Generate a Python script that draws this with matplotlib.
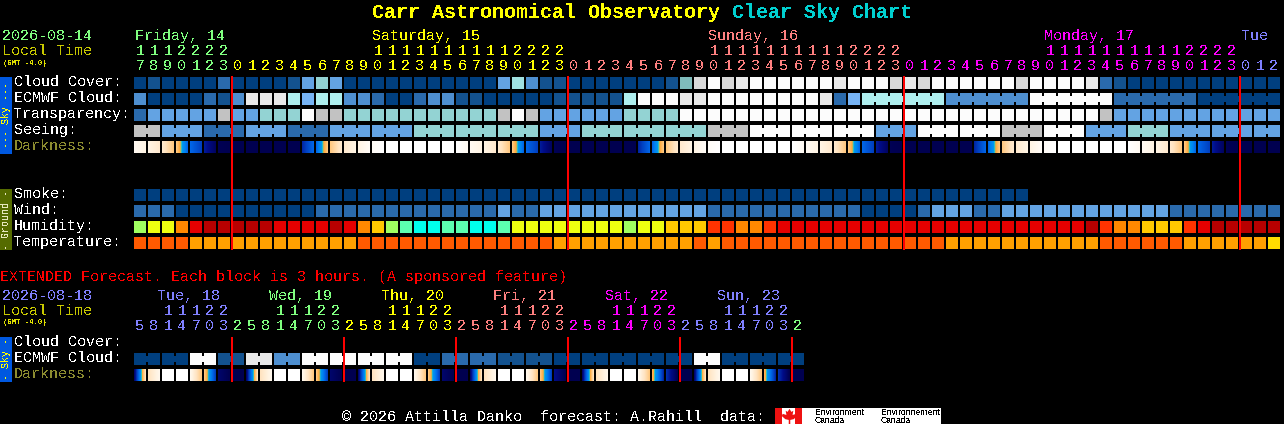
import numpy as np
import matplotlib
matplotlib.use("Agg")
import matplotlib.pyplot as plt
from matplotlib.colors import LinearSegmentedColormap
from matplotlib.patches import Rectangle

plt.rcParams['text.antialiased'] = False
MONO = 'Liberation Mono'

# ---------- data ----------
HOURS = [17,18,19,20,21,22,23,0,1,2,3,4,5,6,7,8,9,10,11,12,13,14,15,16,17,18,19,20,21,22,23,
         0,1,2,3,4,5,6,7,8,9,10,11,12,13,14,15,16,17,18,19,20,21,22,23,
         0,1,2,3,4,5,6,7,8,9,10,11,12,13,14,15,16,17,18,19,20,21,22,23,0,1,2]
HOUR_DAY = [0]*7 + [1]*24 + [2]*24 + [3]*24 + [4]*3
DAY_COLORS = ['#80ff80', '#ffff00', '#ff8080', '#ff00ff', '#8080ff']
DAY_LABELS = ['Friday, 14', 'Saturday, 15', 'Sunday, 16', 'Monday, 17', 'Tue']
DAY_LABEL_X = [135, 372, 708, 1044, 1241]

CLOUD_COLORS = ['#003f7f', '#13528f', '#2a6aac', '#4e8fd0', '#63a3e3', '#77b4f5', '#aeeeee',
                '#93d3d3', '#c2c2c2', '#e9e9e9', '#fcfcfc', '#d8d8d8', '#7fbcbc', '#a0e0e0']

cloud_cover = [0,1,0,0,0,0,2,0,0,0,0,1,4,7,4,0,0,0,0,0,0,
               0,0,0,0,0,4,13,3,1,1,0,0,0,0,0,0,0,1,12,11,10,11,9,10,10,10,10,10,10,9,10,
               10,10,11,9,11,10,10,10,10,10,10,11,10,10,10,10,9,2,1,0,0,0,0,0,0,0,0,0,0,0]
ecmwf = [3,0,0,0,0,2,1,3,9,9,9,6,5,6,6,3,3,2,0,0,2,
         3,3,1,1,0,0,0,0,0,1,1,1,1,1,6,10,10,10,9,9,10,10,10,10,10,10,10,10,9,2,5,
         6,6,6,6,6,6,3,3,3,3,3,3,10,10,10,10,10,10,2,2,2,2,2,2,0,0,0,0,0,0]
transparency = [2,4,4,4,4,4,8,4,4,7,7,7,10,8,8,7,7,7,7,7,7,
                7,7,7,7,7,8,10,8,4,4,4,4,4,4,7,7,7,7,10,10,10,10,10,10,10,10,10,10,10,10,10,
                10,10,10,10,10,10,10,10,10,10,10,10,10,10,10,10,10,8,4,4,4,4,4,4,4,4,4,4,4,4]
seeing = [8,8, 4,4,4, 2,2,2, 4,4,4, 2,2,2, 4,4,4, 4,4,4, 7,7,7, 7,7,7, 7,7,7, 4,4,4, 7,7,7,
          7,7,7, 7,7,7, 8,8,8, 10,10,10, 10,10,10, 10,10,10, 4,4,4, 10,10,10, 10,10,10,
          8,8,8, 10,10,10, 4,4,4, 7,7,7, 4,4,4, 4,4,4, 4,4]
dark_left = [0.5,1.0,1.6,3.0,6.0,7.7,8.9,9,9,9,9,9,7.5,6.0,3.0,1.6,1.0,0.3,0,0,0,0,0,0,
             0.5,1.0,1.6,3.0,6.0,7.7,8.9,9,9,9,9,9,7.5,6.0,3.0,1.6,1.0,0.3,0,0,0,0,0,0,
             0.5,1.0,1.6,3.0,6.0,7.7,8.9,9,9,9,9,9,7.5,6.0,3.0,1.6,1.0,0.3,0,0,0,0,0,0,
             0.5,1.0,1.6,3.0,6.0,7.7,8.9,9,9,9]
dark_right = [1.0,1.6,3.0,6.0,7.0,8.7,9,9,9,9,9,9,6.0,3.0,1.6,1.0,0.3,0,0,0,0,0,0,0.5,
              1.0,1.6,3.0,6.0,7.0,8.7,9,9,9,9,9,9,6.0,3.0,1.6,1.0,0.3,0,0,0,0,0,0,0.5,
              1.0,1.6,3.0,6.0,7.0,8.7,9,9,9,9,9,9,6.0,3.0,1.6,1.0,0.3,0,0,0,0,0,0,0.5,
              1.0,1.6,3.0,6.0,7.0,8.7,9,9,9,9]
smoke = [0]*64
wind = [2,2,2,0,0,0,0,0,0,0,0,0,0,2,2,2,2,2,2,2,2,
        2,2,2,2,2,4,2,2,4,4,4,4,4,4,4,4,4,4,4,4,2,2,2,2,2,2,2,2,2,2,2,
        0,0,0,0,2,4,4,4,2,2,4,4,4,4,4,4,4,4,4,4,4,4,2,2,2,2,2,2,2,2]
HUM_COLORS = {'L':'#a0ff60','Y':'#eeff10','O':'#ff8800','R':'#e60000','D':'#b80000',
              'T':'#ff3300','G':'#ffc800','M':'#5cffb0','C':'#00ffec'}
humidity = list("LYYORDDDDDRRRRDRO" "GLMC"
                "CMMCCMYYYYYYYYLYYGGG" "TTOOTRRRRRR"
                "RRRRRRRRRRRRRRRRDTOOGGGTRDDDDD")
TEMP_COLORS = {'a':'#ff5a00','b':'#ffa000','c':'#ffdd00'}
temperature = list("aaaabbbbbbbbbbbbaaaaa"
                   "aaaaaaaaabbbbbbbbbbabaaaaaaaaaa"
                   "aaaaaabbbbbbbbbbbaaaaaabbbbbbc")

EXT_HOURS = [5,8,11,14,17,20,23]+[2,5,8,11,14,17,20,23]*5+[2]
EXT_DAY = [0]*7+[1]*8+[2]*8+[3]*8+[4]*8+[0]*8+[1]
EXT_COLORS = ['#8080ff', '#80ff80', '#ffff00', '#ff8080', '#ff00ff']
EXT_DAY_LABELS = ['Tue, 18','Wed, 19','Thu, 20','Fri, 21','Sat, 22','Sun, 23']
EXT_DAY_LABEL_X = [157,269,381,493,605,717]
EXT_DAY_LABEL_C = ['#8080ff','#80ff80','#ffff00','#ff8080','#ff00ff','#8080ff']
ext_ecmwf = [0,0,10,1,9,3,10,10,10,10,0,2,2,1,1,0,0,0,0,0,10,0,0,0]
ext_dark_left = [8.5,2.0,0,0,0.7,3.0,8.5,9, 8.5,2.0,0,0,0.7,3.0,8.5,9, 8.5,2.0,0,0,0.7,3.0,8.5,9,
                 8.5,2.0,0,0,0.7,3.0,8.0,9, 8.5,2.0,0,0,0.7,3.6,7.3,9, 8.5,2.0,0,0,0.7,3.6,7.3,9]
ext_dark_right = [2.0,0.7,0,0,3.0,7.0,9,9, 2.0,0.7,0,0,3.0,7.0,9,9, 2.0,0.7,0,0,3.0,7.0,9,9,
                  2.0,0.7,0,0,3.0,7.0,9,9, 2.0,0.7,0,0,3.0,7.5,9,9, 2.0,0.7,0,0,3.0,7.5,9,9]
DARK_LEVELS = [0, 1, 2, 3, 4, 4.3, 4.6, 5.4, 6, 7, 8, 9]
DARK_STOPS = ['#ffffff','#fff4e4','#ffe3c0','#ffc880','#ffa838','#40c8b0','#0098f0','#0080f0',
              '#0066e8','#0040c0','#000c88','#000050']
dark_cmap = LinearSegmentedColormap.from_list('dark', [(l/9, c) for l, c in zip(DARK_LEVELS, DARK_STOPS)], N=512)

MARK_X = [232, 568, 904, 1240]
EXT_MARK_X = [232, 344, 456, 568, 680, 792]

# ---------- figure ----------
fig = plt.figure(figsize=(12.84, 4.24), dpi=100, facecolor='black')
ax = fig.add_axes([0, 0, 1, 1])
ax.set_facecolor('black')
ax.axis('off')

X0, STEP, W = 134, 14, 12

def cell(i, y, color):
    ax.add_patch(Rectangle((X0+STEP*i, y), W, W, fc=color, ec='none', zorder=2))

def bridge(i, y, color):
    ax.add_patch(Rectangle((X0+STEP*i+W, y+3), STEP-W, 6, fc=color, ec='none', zorder=2))

def row(values, y, colors, group=None):
    for i, v in enumerate(values):
        c = colors[v]
        cell(i, y, c)
        if group and i+1 < len(values) and group(i) == group(i+1) and group(i) is not None:
            bridge(i, y, c)

def dark_row(left, right, y):
    for i, (a, b) in enumerate(zip(left, right)):
        x = X0+STEP*i
        ax.imshow(np.linspace(a, b, W)[None, :], extent=(x, x+W, y+W, y), cmap=dark_cmap,
                  vmin=0, vmax=9, interpolation='nearest', aspect='auto', zorder=2)

row(cloud_cover, 77, CLOUD_COLORS)
row(ecmwf, 93, CLOUD_COLORS, group=lambda i: (i-52)//6 if i >= 52 else None)
row(transparency, 109, CLOUD_COLORS)
row(seeing, 125, CLOUD_COLORS, group=lambda i: (i-2)//3)
dark_row(dark_left, dark_right, 141)
row(smoke, 189, CLOUD_COLORS)
row(wind, 205, CLOUD_COLORS)
row(humidity, 221, HUM_COLORS)
row(temperature, 237, TEMP_COLORS)

for g, v in enumerate(ext_ecmwf):
    c = CLOUD_COLORS[v]
    cell(2*g, 353, c); cell(2*g+1, 353, c); bridge(2*g, 353, c)
dark_row(ext_dark_left, ext_dark_right, 369)

for x in MARK_X:
    ax.add_patch(Rectangle((x-1, 76), 1.6, 174, fc='#ff0000', ec='none', zorder=3))
for x in EXT_MARK_X:
    ax.add_patch(Rectangle((x-1, 337), 1.6, 45, fc='#ff0000', ec='none', zorder=3))

def T(x, y, s, color='white', size=10.8, **kw):
    kw.setdefault('family', MONO)
    return ax.text(x, y, s, color=color, fontsize=size, va='baseline', ha=kw.pop('ha', 'left'), zorder=4, **kw)

# title
T(372, 18, 'Carr Astronomical Observatory', '#ffff00', size=14.4, fontweight='bold')
T(372+30*12, 18, 'Clear Sky Chart', '#00d0d0', size=14.4, fontweight='bold')

# top header
T(2, 40, '2026-08-14', '#80ff80')
T(2, 55, 'Local Time', '#c8c800')
T(3, 65, '(GMT -4.0)', '#e0e000', size=5.2, fontweight='bold')
for s, x, c in zip(DAY_LABELS, DAY_LABEL_X, DAY_COLORS):
    T(x, 40, s, c)
for i, (h, d) in enumerate(zip(HOURS, HOUR_DAY)):
    cx = X0+STEP*i+6
    if h >= 10:
        T(cx, 55, str(h//10), DAY_COLORS[d], ha='center')
    T(cx, 70, str(h % 10), DAY_COLORS[d], ha='center')

for s, y, c in [('Cloud Cover:', 86, 'white'), ('ECMWF Cloud:', 102, 'white'), ('Transparency:', 118, 'white'),
                ('Seeing:', 134, 'white'), ('Darkness:', 150, '#8c8c30'), ('Smoke:', 198, 'white'),
                ('Wind:', 214, 'white'), ('Humidity:', 230, 'white'), ('Temperature:', 246, 'white'),
                ('Cloud Cover:', 346, 'white'), ('ECMWF Cloud:', 362, 'white'), ('Darkness:', 378, '#8c8c30')]:
    T(14, y, s, c)

# side bands
def band(y0, y1, color, s, tc):
    ax.add_patch(Rectangle((0, y0), 12, y1-y0, fc=color, ec='none', zorder=2))
    ax.text(6, (y0+y1)/2, s, color=tc, fontsize=7.2, rotation=90, ha='center', va='center',
            family=MONO, zorder=4)
band(77, 154, '#0058e0', '--- Sky ---', '#ffff00')
band(189, 250, '#556b00', '- Ground -', '#e8e8c0')
band(337, 382, '#0058e0', '- Sky -', '#ffff00')

# extended
T(0, 281, 'EXTENDED Forecast. Each block is 3 hours. (A sponsored feature)', '#ff0000')
T(2, 300, '2026-08-18', '#8080ff')
T(2, 315, 'Local Time', '#c8c800')
T(3, 324, '(GMT -4.0)', '#e0e000', size=5.2, fontweight='bold')
for s, x, c in zip(EXT_DAY_LABELS, EXT_DAY_LABEL_X, EXT_DAY_LABEL_C):
    T(x, 300, s, c)
for j, (h, d) in enumerate(zip(EXT_HOURS, EXT_DAY)):
    cx = X0+STEP*j+6
    if h >= 10:
        T(cx, 315, str(h//10), EXT_COLORS[d], ha='center')
    T(cx, 330, str(h % 10), EXT_COLORS[d], ha='center')

# footer
T(342, 421, '\u00a9 2026 Attilla Danko  forecast: A.Rahill  data:')
ax.add_patch(Rectangle((775, 408), 166, 16, fc='white', ec='none', zorder=2))
ax.add_patch(Rectangle((775, 408), 7, 16, fc='#ee1111', ec='none', zorder=3))
ax.add_patch(Rectangle((795, 408), 7, 16, fc='#ee1111', ec='none', zorder=3))
leaf = [(0,1),(.25,.6),(.5,.75),(.4,.2),(.9,.35),(1,.05),(.55,-.35),(.1,-.45),(.1,-1),
        (-.1,-1),(-.1,-.45),(-.55,-.35),(-1,.05),(-.9,.35),(-.4,.2),(-.5,.75),(-.25,.6)]
ax.plot([788.5], [415.5], marker=leaf, ms=11, color='#ee1111', mec='none', ls='none', zorder=3)
for x, a in [(815, 'Environment'), (881, 'Environnement')]:
    ax.text(x, 415, a, color='black', fontsize=6.2, va='baseline', family='Liberation Sans', zorder=4)
    ax.text(x, 423, 'Canada', color='black', fontsize=6.2, va='baseline', family='Liberation Sans', zorder=4)

ax.set_xlim(0, 1284)
ax.set_ylim(424, 0)
fig.savefig('out.png', dpi=100, facecolor='black')
